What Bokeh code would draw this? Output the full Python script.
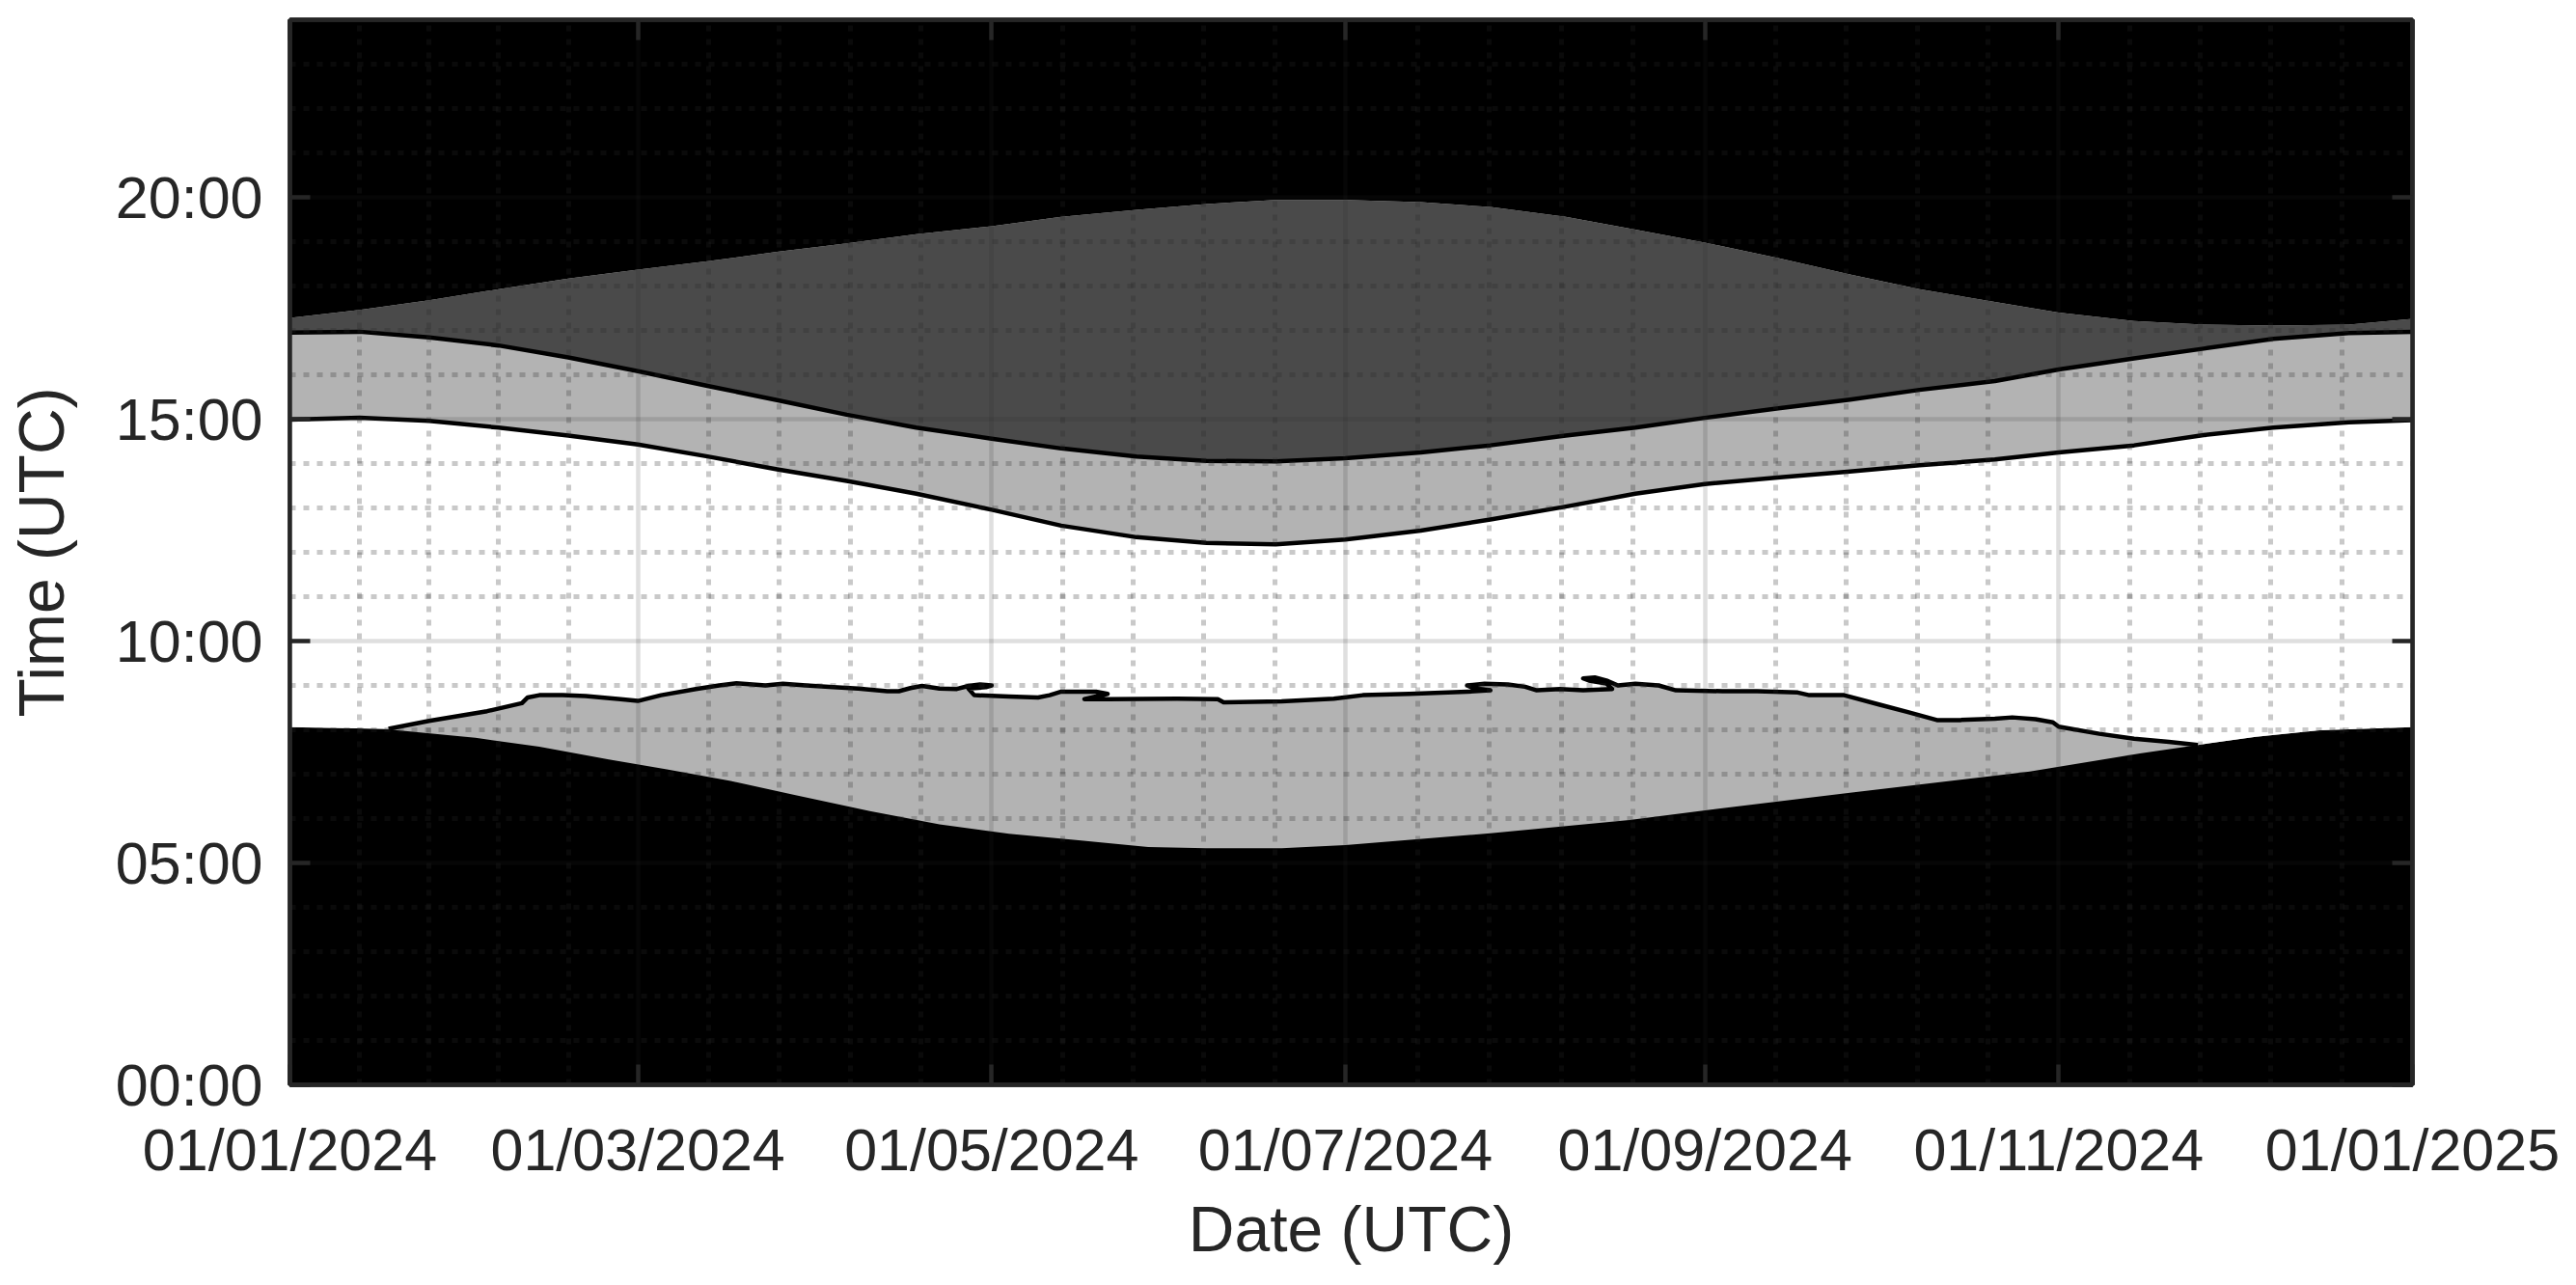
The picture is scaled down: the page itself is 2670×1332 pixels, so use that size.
import numpy as np
import pandas as pd
from bokeh.plotting import figure
from bokeh.models import FixedTicker, DatetimeTickFormatter, DatetimeAxis, LinearAxis, Range1d
from bokeh.embed import file_html
from bokeh.resources import INLINE

# ---------------- data ----------------
profile_dates = ["2024-01-01", "2024-01-13", "2024-01-25", "2024-02-06", "2024-02-18",
                 "2024-03-01", "2024-03-13", "2024-03-25", "2024-04-06", "2024-04-18",
                 "2024-05-01", "2024-05-13", "2024-05-26", "2024-06-07", "2024-06-19",
                 "2024-07-01", "2024-07-14", "2024-07-26", "2024-08-08", "2024-08-20",
                 "2024-09-01", "2024-09-14", "2024-09-26", "2024-10-08", "2024-10-21",
                 "2024-11-01", "2024-11-14", "2024-11-26", "2024-12-08", "2024-12-21",
                 "2025-01-01"]
sunset_h = [17.28, 17.46, 17.68, 17.93, 18.17, 18.37, 18.56, 18.77, 18.96, 19.17,
            19.35, 19.56, 19.72, 19.85, 19.94, 19.94, 19.89, 19.78, 19.56, 19.27,
            18.98, 18.62, 18.26, 17.93, 17.64, 17.40, 17.21, 17.13, 17.11, 17.13,
            17.26]
shade_upper_h = [16.95, 16.97, 16.84, 16.66, 16.39, 16.08, 15.75, 15.43, 15.10, 14.81,
                 14.56, 14.34, 14.16, 14.06, 14.05, 14.12, 14.25, 14.41, 14.63, 14.81,
                 15.03, 15.25, 15.44, 15.66, 15.86, 16.12, 16.37, 16.59, 16.81, 16.94,
                 16.97]
shade_lower_h = [14.99, 15.03, 14.96, 14.81, 14.63, 14.43, 14.16, 13.87, 13.61, 13.32,
                 12.96, 12.60, 12.34, 12.21, 12.18, 12.29, 12.49, 12.74, 13.03, 13.32,
                 13.54, 13.69, 13.82, 13.96, 14.09, 14.25, 14.41, 14.64, 14.81, 14.93,
                 14.98]

sunrise_dates = ["2024-01-01", "2024-01-17", "2024-02-02", "2024-02-13", "2024-02-25",
                 "2024-03-06", "2024-03-17", "2024-03-28", "2024-04-10", "2024-04-22",
                 "2024-05-04", "2024-05-16", "2024-05-28", "2024-06-07", "2024-06-20",
                 "2024-07-01", "2024-07-26", "2024-08-19", "2024-09-03", "2024-09-26",
                 "2024-10-20", "2024-10-27", "2024-11-15", "2024-11-25", "2024-12-05",
                 "2024-12-16", "2025-01-01"]
sunrise_h = [8.06, 8.02, 7.82, 7.62, 7.33, 7.11, 6.85, 6.53, 6.17, 5.87,
             5.66, 5.51, 5.36, 5.33, 5.33, 5.40, 5.67, 5.97, 6.22, 6.58,
             6.95, 7.06, 7.47, 7.66, 7.84, 7.99, 8.06]

horizon_dates = ["2024-01-18", "2024-01-25", "2024-02-04", "2024-02-10", "2024-02-11",
                 "2024-02-13", "2024-02-17", "2024-02-21", "2024-02-27", "2024-03-01",
                 "2024-03-05", "2024-03-11", "2024-03-15", "2024-03-18", "2024-03-23",
                 "2024-03-26", "2024-03-30", "2024-04-03", "2024-04-08", "2024-04-13",
                 "2024-04-15", "2024-04-17", "2024-04-19", "2024-04-22", "2024-04-25",
                 "2024-04-27", "2024-04-29", "2024-05-01", "2024-04-30", "2024-04-27",
                 "2024-04-28", "2024-05-04", "2024-05-09", "2024-05-11", "2024-05-13",
                 "2024-05-19", "2024-05-21", "2024-05-19", "2024-05-17", "2024-05-21",
                 "2024-06-02", "2024-06-09", "2024-06-10", "2024-06-20", "2024-06-29",
                 "2024-07-04", "2024-07-12", "2024-07-22", "2024-07-26", "2024-07-23",
                 "2024-07-22", "2024-07-25", "2024-07-29", "2024-08-01", "2024-08-03",
                 "2024-08-07", "2024-08-11", "2024-08-16", "2024-08-15", "2024-08-12",
                 "2024-08-11", "2024-08-13", "2024-08-15", "2024-08-17", "2024-08-20",
                 "2024-08-24", "2024-08-27", "2024-09-04", "2024-09-10", "2024-09-17",
                 "2024-09-19", "2024-09-25", "2024-10-01", "2024-10-06", "2024-10-11",
                 "2024-10-15", "2024-10-21", "2024-10-24", "2024-10-28", "2024-10-31",
                 "2024-11-01", "2024-11-08", "2024-11-14", "2024-11-20", "2024-11-25"]
horizon_h = [8.02, 8.20, 8.42, 8.60, 8.73, 8.78, 8.78, 8.76, 8.69, 8.65,
             8.78, 8.92, 9.00, 9.05, 9.00, 9.04, 9.00, 8.97, 8.93, 8.87,
             8.87, 8.94, 8.99, 8.93, 8.92, 8.99, 9.02, 9.00, 8.96, 8.93,
             8.78, 8.75, 8.73, 8.78, 8.86, 8.86, 8.81, 8.75, 8.69, 8.69,
             8.70, 8.69, 8.62, 8.64, 8.70, 8.78, 8.81, 8.86, 8.89, 8.94,
             9.00, 9.04, 9.02, 8.97, 8.89, 8.92, 8.89, 8.92, 9.04, 9.11,
             9.16, 9.18, 9.11, 9.00, 9.04, 9.00, 8.89, 8.87, 8.87, 8.84,
             8.78, 8.78, 8.57, 8.40, 8.22, 8.22, 8.25, 8.28, 8.24, 8.17,
             8.07, 7.91, 7.80, 7.73, 7.66]

x_tick_dates = ["2024-01-01", "2024-03-01", "2024-05-01", "2024-07-01",
                "2024-09-01", "2024-11-01", "2025-01-01"]
y_ticks = [0, 5, 10, 15, 20]
y_tick_labels = ["00:00", "05:00", "10:00", "15:00", "20:00"]


def to_ms(dates):
    s = pd.to_datetime(pd.Series(dates)).astype("datetime64[ms]")
    return s.astype("int64").to_numpy().astype(float)


px = to_ms(profile_dates)
sx = to_ms(sunrise_dates)
hx = to_ms(horizon_dates)
sunset = np.array(sunset_h)
upper = np.array(shade_upper_h)
lower = np.array(shade_lower_h)
sunrise = np.array(sunrise_h)
horizon = np.array(horizon_h)

# ---------------- figure ----------------
AX = "#262626"
FONT = "Liberation Sans"

xt = to_ms(x_tick_dates)
x_minor = [a + (b - a) * k / 5.0 for a, b in zip(xt[:-1], xt[1:]) for k in range(1, 5)]
x_ticker = FixedTicker(ticks=list(xt), minor_ticks=x_minor)
y_ticker = FixedTicker(ticks=y_ticks, minor_ticks=[h for h in range(0, 25) if h % 5])

p = figure(x_axis_type="datetime",
           x_range=Range1d(xt[0], xt[-1]), y_range=Range1d(0, 24),
           frame_width=2200, frame_height=1104,
           min_border_left=300, min_border_right=162,
           min_border_top=20, min_border_bottom=200,
           output_backend="svg", toolbar_location=None,
           background_fill_color="black", border_fill_color="white")

# sun above horizon (light gray)
p.patch(np.concatenate([sx, px[::-1]]), np.concatenate([sunrise, sunset[::-1]]),
        fill_color="#b3b3b3", line_color=None)
# dark gray band
p.patch(np.concatenate([px, px[::-1]]), np.concatenate([upper, sunset[::-1]]),
        fill_color="#4a4a4a", line_color=None)
# white (direct sun) region
pre = sx < hx[0]
post = sx > hx[-1]
low_x = np.concatenate([sx[pre], hx, sx[post]])
low_y = np.concatenate([sunrise[pre], horizon, sunrise[post]])
p.patch(np.concatenate([low_x, px[::-1]]), np.concatenate([low_y, lower[::-1]]),
        fill_color="white", line_color=None)

for xs, ys in ((px, upper), (px, lower), (hx, horizon)):
    p.line(xs, ys, line_color="black", line_width=4.5, line_join="round")

# grid
for g in (p.xgrid, p.ygrid):
    g.level = "annotation"
    g.grid_line_color = AX
    g.grid_line_alpha = 0.15
    g.grid_line_width = 4.5
    g.minor_grid_line_color = AX
    g.minor_grid_line_alpha = 0.25
    g.minor_grid_line_width = 5
    g.minor_grid_line_dash = "6 8"

p.outline_line_color = AX
p.outline_line_width = 4.5

fmt = DatetimeTickFormatter(days="%d/%m/%Y", months="%d/%m/%Y", years="%d/%m/%Y")


def style(ax, ticker, labels):
    ax.ticker = ticker
    ax.axis_line_color = AX
    ax.axis_line_width = 4.5
    ax.major_tick_line_color = AX
    ax.major_tick_line_width = 4.5
    ax.major_tick_in = 21
    ax.major_tick_out = 0
    ax.minor_tick_in = 0
    ax.minor_tick_out = 0
    ax.major_label_text_font = FONT
    if labels:
        ax.major_label_text_color = AX
        ax.major_label_text_font_size = "61px"
    else:
        ax.major_label_text_color = None
        ax.major_label_text_font_size = "0px"
        ax.major_label_standoff = 0
    ax.axis_label_text_font = FONT
    ax.axis_label_text_font_size = "66px"
    ax.axis_label_text_font_style = "normal"
    ax.axis_label_text_color = AX


xa = p.xaxis[0]
style(xa, x_ticker, True)
xa.formatter = fmt
xa.major_label_standoff = 33
xa.axis_label = "Date (UTC)"
xa.axis_label_standoff = 8

ya = p.yaxis[0]
style(ya, y_ticker, True)
ya.major_label_overrides = dict(zip(y_ticks, y_tick_labels))
ya.major_label_standoff = 28
ya.axis_label = "Time (UTC)"
ya.axis_label_standoff = 37

top = DatetimeAxis()
style(top, x_ticker, False)
top.formatter = fmt
p.add_layout(top, "above")

right = LinearAxis()
style(right, y_ticker, False)
p.add_layout(right, "right")

open("out.html", "w").write(file_html(p, INLINE))
